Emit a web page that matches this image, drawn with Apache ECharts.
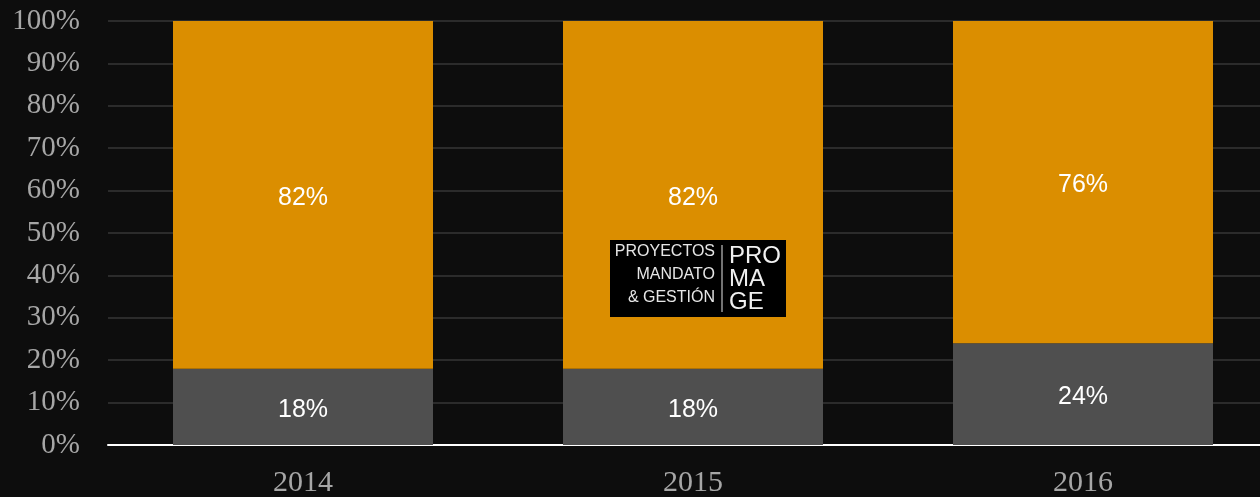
<!DOCTYPE html>
<html>
<head>
<meta charset="utf-8">
<script src="https://cdn.jsdelivr.net/npm/echarts@6/dist/echarts.min.js"></script>
<style>
html,body{margin:0;padding:0;background:#0d0d0d;}
#charts{width:1260px;height:497px;}
</style>
</head>
<body>
<div id="charts"></div>
<script>
// anios y porcentajes
var years = ['2014', '2015', '2016'];
var lowerShare = [18, 18, 24];
var upperShare = [82, 82, 76];

var serifFont = '"Liberation Serif", "DejaVu Serif", serif';
var sansFont = '"Liberation Sans", Arial, sans-serif';

function drawCharts() {
	var charts = echarts.init(document.getElementById('charts'));
	var barLabel = {
		show: true,
		position: 'inside',
		offset: [0, 3],
		formatter: '{c}%',
		color: '#ffffff',
		fontFamily: sansFont,
		fontSize: 25
	};
	var options = {
		backgroundColor: '#0d0d0d',
		animation: false,
		grid: {
			left: 108,
			width: 1170,
			top: 21,
			bottom: 52,
			outerBoundsMode: 'none'
		},
		xAxis: [{
			type: 'category',
			data: years,
			axisLine: {
				lineStyle: { color: '#ffffff', width: 2 }
			},
			axisTick: { show: false },
			axisLabel: {
				color: '#a6a6a6',
				fontFamily: serifFont,
				fontSize: 30,
				margin: 23
			}
		}],
		yAxis: [{
			type: 'value',
			min: 0,
			max: 100,
			interval: 10,
			axisLine: { show: false },
			axisTick: { show: false },
			splitLine: {
				lineStyle: { color: '#2b2b2b', width: 2 }
			},
			axisLabel: {
				formatter: '{value}%',
				color: '#a6a6a6',
				fontFamily: serifFont,
				fontSize: 29,
				margin: 28
			}
		}],
		series: [
			{
				name: 'inferior',
				type: 'bar',
				stack: 'total',
				barWidth: 260,
				itemStyle: { color: '#4f4f4f' },
				label: barLabel,
				data: lowerShare
			},
			{
				name: 'superior',
				type: 'bar',
				stack: 'total',
				barWidth: 260,
				itemStyle: { color: '#db8e00' },
				label: barLabel,
				data: upperShare
			}
		],
		graphic: [{
			type: 'group',
			left: 610,
			top: 240,
			z: 100,
			children: [
				{ type: 'rect', z: 100, shape: { x: 0, y: 0, width: 176, height: 77 }, style: { fill: '#000000' } },
				{ type: 'text', z: 101, style: { x: 105, y: 12, text: 'PROYECTOS', fill: '#e6e6e6', font: '16px ' + sansFont, align: 'right', verticalAlign: 'middle' } },
				{ type: 'text', z: 101, style: { x: 105, y: 35, text: 'MANDATO', fill: '#e6e6e6', font: '16px ' + sansFont, align: 'right', verticalAlign: 'middle' } },
				{ type: 'text', z: 101, style: { x: 105, y: 58, text: '& GESTIÓN', fill: '#e6e6e6', font: '16px ' + sansFont, align: 'right', verticalAlign: 'middle' } },
				{ type: 'line', z: 101, shape: { x1: 112, y1: 5, x2: 112, y2: 72 }, style: { stroke: '#e6e6e6', lineWidth: 1 } },
				{ type: 'text', z: 101, style: { x: 119, y: 16, text: 'PRO', fill: '#f0f0f0', font: '24px ' + sansFont, verticalAlign: 'middle' } },
				{ type: 'text', z: 101, style: { x: 119, y: 39, text: 'MA', fill: '#f0f0f0', font: '24px ' + sansFont, verticalAlign: 'middle' } },
				{ type: 'text', z: 101, style: { x: 119, y: 62, text: 'GE', fill: '#f0f0f0', font: '24px ' + sansFont, verticalAlign: 'middle' } }
			]
		}]
	};
	charts.setOption(options);
}
drawCharts();
</script>
</body>
</html>
